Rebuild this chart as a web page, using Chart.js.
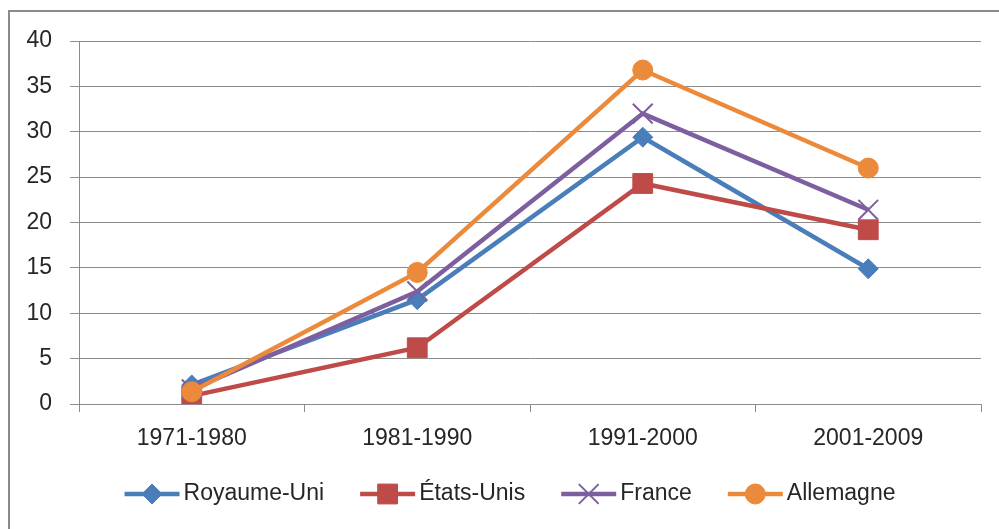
<!DOCTYPE html>
<html lang="fr">
<head>
    <meta charset="UTF-8">
    <title>Évolution par décennie</title>
    <script src="https://cdn.jsdelivr.net/npm/chart.js"></script>
    <style>
        html, body { margin: 0; padding: 0; background: #fff; }
        #wrap { width: 999px; height: 529px; position: relative; }
    </style>
</head>
<body>
    <div id="wrap"><canvas id="chart"></canvas></div>

    <script>
        // Data
        const periods = ['1971-1980', '1981-1990', '1991-2000', '2001-2009'];
        const royaumeUni = [2.1, 11.5, 29.4, 14.9];
        const etatsUnis = [0.9, 6.2, 24.3, 19.2];
        const france = [1.6, 12.4, 32.0, 21.4];
        const allemagne = [1.35, 14.5, 36.8, 26.0];
        const seriesNames = ['Royaume-Uni', 'États-Unis', 'France', 'Allemagne'];
        const yMin = 0, yMax = 40, yStep = 5;

        const textColor = '#262626';
        const axisColor = '#8c8c8c';
        const baseFont = { family: "'Liberation Sans', Arial, sans-serif", size: 23 };

        function series(label, data, color, style, radius, order) {
            return {
                label: label,
                data: data,
                borderColor: color,
                backgroundColor: color,
                borderWidth: 4.5,
                pointStyle: style,
                pointRadius: radius,
                pointHoverRadius: radius,
                pointBackgroundColor: color,
                pointBorderColor: color,
                pointBorderWidth: style === 'crossRot' ? 2 : 1,
                tension: 0,
                order: order
            };
        }

        // outer frame of the chart box
        const framePlugin = {
            id: 'frame',
            beforeDraw(chart) {
                const ctx = chart.ctx;
                ctx.save();
                ctx.fillStyle = '#fff';
                ctx.fillRect(0, 0, chart.width, chart.height);
                ctx.strokeStyle = '#8a8a8a';
                ctx.lineWidth = 2;
                ctx.strokeRect(9, 11, 1200, 800);
                ctx.restore();
            }
        };

        // Excel style legend: line with marker, then text
        const legendPlugin = {
            id: 'lineLegend',
            afterDraw(chart) {
                const ctx = chart.ctx;
                const y = 494;
                const lineLen = 55, gap = 4, itemGap = 36;
                ctx.save();
                ctx.font = baseFont.size + 'px ' + baseFont.family;
                const items = chart.data.datasets.map(ds => ({
                    ds: ds,
                    w: lineLen + gap + ctx.measureText(ds.label).width
                }));
                const total = items.reduce((s, it) => s + it.w, 0) + itemGap * (items.length - 1);
                let x = 510 - total / 2;
                items.forEach(it => {
                    const ds = it.ds;
                    ctx.strokeStyle = ds.borderColor;
                    ctx.fillStyle = ds.borderColor;
                    ctx.lineWidth = ds.borderWidth;
                    ctx.beginPath();
                    ctx.moveTo(x, y);
                    ctx.lineTo(x + lineLen, y);
                    ctx.stroke();
                    ctx.lineWidth = ds.pointBorderWidth;
                    if (Chart.helpers && Chart.helpers.drawPoint) {
                        Chart.helpers.drawPoint(ctx, {
                            pointStyle: ds.pointStyle,
                            radius: ds.pointRadius,
                            borderWidth: ds.pointBorderWidth,
                            rotation: 0
                        }, x + lineLen / 2, y);
                    }
                    ctx.fillStyle = textColor;
                    ctx.textAlign = 'left';
                    ctx.textBaseline = 'middle';
                    ctx.fillText(ds.label, x + lineLen + gap, y);
                    x += it.w + itemGap;
                });
                ctx.restore();
            }
        };

        new Chart(document.getElementById('chart'), {
            type: 'line',
            data: {
                labels: periods,
                datasets: [
                    series(seriesNames[0], royaumeUni, '#4a7ebb', 'rectRot', 10, 4),
                    series(seriesNames[1], etatsUnis, '#be4b48', 'rect', 14, 3),
                    series(seriesNames[2], france, '#7d5fa0', 'crossRot', 14, 2),
                    series(seriesNames[3], allemagne, '#ec8a3c', 'circle', 10, 1)
                ]
            },
            options: {
                responsive: true,
                maintainAspectRatio: false,
                animation: false,
                layout: { padding: { top: 41, right: 18, left: 0, bottom: 0 } },
                plugins: {
                    legend: { display: false },
                    tooltip: { enabled: false }
                },
                scales: {
                    x: {
                        offset: true,
                        grid: {
                            offset: true,
                            drawOnChartArea: false,
                            drawTicks: true,
                            tickLength: 8,
                            color: axisColor
                        },
                        border: { color: axisColor, width: 1 },
                        ticks: { font: baseFont, color: textColor, padding: 13, maxRotation: 0 },
                        afterFit(scale) { scale.height = 125; }
                    },
                    y: {
                        min: yMin,
                        max: yMax,
                        grid: { color: axisColor, tickLength: 9 },
                        border: { color: axisColor, width: 1 },
                        ticks: { stepSize: yStep, font: baseFont, color: textColor, padding: 18 },
                        afterFit(scale) { scale.width = 79; }
                    }
                }
            },
            plugins: [framePlugin, legendPlugin]
        });
    </script>
</body>
</html>
